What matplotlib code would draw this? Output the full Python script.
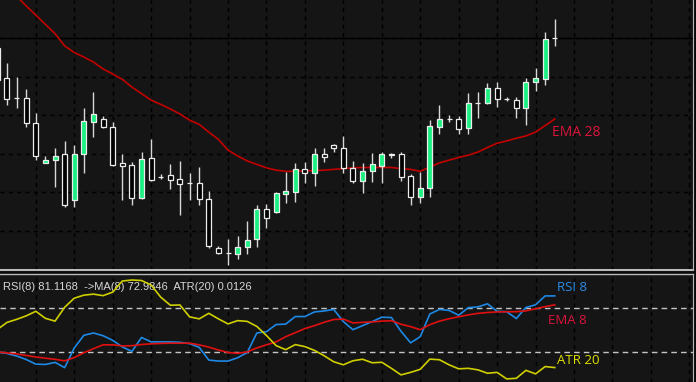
import numpy as np
import matplotlib.pyplot as plt
from matplotlib.patches import Rectangle

# 日线K线数据 (开 高 低 收)
opens = [1.2975, 1.2897, 1.2844, 1.2845, 1.2780, 1.2676, 1.2683, 1.2699, 1.2579, 1.2699,
         1.2782, 1.2790, 1.2769, 1.2676, 1.2670, 1.2585, 1.2689, 1.2639, 1.2644, 1.2634,
         1.2624, 1.2624, 1.2582, 1.2455, 1.2442, 1.2439, 1.2457, 1.2478, 1.2556, 1.2548,
         1.2595, 1.2600, 1.2660, 1.2650, 1.2699, 1.2722, 1.2715, 1.2663, 1.2629, 1.2655,
         1.2668, 1.2699, 1.2699, 1.2642, 1.2587, 1.2611, 1.2769, 1.2790, 1.2790, 1.2767,
         1.2832, 1.2832, 1.2871, 1.2842, 1.2839, 1.2819, 1.2886, 1.2894, 1.3001]
highs = [1.2982, 1.2936, 1.2899, 1.2868, 1.2806, 1.2694, 1.2715, 1.2733, 1.2722, 1.2819,
         1.2860, 1.2798, 1.2782, 1.2699, 1.2678, 1.2704, 1.2738, 1.2647, 1.2673, 1.2681,
         1.2650, 1.2665, 1.2603, 1.2460, 1.2478, 1.2486, 1.2525, 1.2566, 1.2569, 1.2600,
         1.2652, 1.2676, 1.2678, 1.2715, 1.2715, 1.2725, 1.2746, 1.2681, 1.2676, 1.2702,
         1.2704, 1.2702, 1.2704, 1.2647, 1.2652, 1.2787, 1.2826, 1.2800, 1.2798, 1.2858,
         1.2860, 1.2884, 1.2886, 1.2847, 1.2847, 1.2897, 1.2923, 1.3016, 1.3050]
lows = [1.2886, 1.2826, 1.2819, 1.2769, 1.2683, 1.2675, 1.2613, 1.2561, 1.2561, 1.2650,
        1.2743, 1.2767, 1.2668, 1.2579, 1.2566, 1.2582, 1.2629, 1.2634, 1.2608, 1.2540,
        1.2579, 1.2566, 1.2455, 1.2439, 1.2410, 1.2426, 1.2439, 1.2457, 1.2507, 1.2546,
        1.2572, 1.2574, 1.2624, 1.2616, 1.2678, 1.2704, 1.2650, 1.2624, 1.2598, 1.2626,
        1.2624, 1.2689, 1.2629, 1.2566, 1.2572, 1.2587, 1.2751, 1.2782, 1.2751, 1.2751,
        1.2793, 1.2829, 1.2821, 1.2837, 1.2793, 1.2774, 1.2863, 1.2878, 1.2980]
closes = [1.2891, 1.2842, 1.2845, 1.2780, 1.2694, 1.2683, 1.2694, 1.2566, 1.2699, 1.2785,
          1.2803, 1.2769, 1.2670, 1.2668, 1.2585, 1.2686, 1.2631, 1.2640, 1.2631, 1.2621,
          1.2623, 1.2582, 1.2460, 1.2442, 1.2441, 1.2457, 1.2475, 1.2556, 1.2533, 1.2598,
          1.2603, 1.2660, 1.2650, 1.2699, 1.2691, 1.2715, 1.2663, 1.2629, 1.2655, 1.2673,
          1.2699, 1.2696, 1.2639, 1.2587, 1.2611, 1.2772, 1.2790, 1.2789, 1.2764, 1.2832,
          1.2831, 1.2871, 1.2842, 1.2841, 1.2819, 1.2886, 1.2897, 1.2998, 1.3000]

ema28 = [1.3156, 1.3133, 1.3109, 1.3084, 1.3060, 1.3036, 1.3012, 1.2980, 1.2963, 1.2951,
         1.2938, 1.2920, 1.2907, 1.2893, 1.2873, 1.2856, 1.2839, 1.2828, 1.2816, 1.2803,
         1.2787, 1.2776, 1.2756, 1.2737, 1.2709, 1.2694, 1.2681, 1.2672, 1.2663, 1.2657,
         1.2654, 1.2654, 1.2655, 1.2656, 1.2657, 1.2659, 1.2661, 1.2663, 1.2664, 1.2664,
         1.2664, 1.2664, 1.2661, 1.2659, 1.2654, 1.2665, 1.2676, 1.2683, 1.2690, 1.2696,
         1.2704, 1.2716, 1.2727, 1.2733, 1.2740, 1.2746, 1.2756, 1.2773, 1.2790]

# 副图指标
rsi8 = [30.0, 28.6, 26.3, 23.1, 18.9, 18.6, 20.5, 15.7, 33.7, 45.2,
        47.3, 44.8, 40.6, 34.6, 30.5, 43.2, 39.2, 39.2, 39.2, 38.8,
        37.6, 34.2, 22.6, 21.7, 21.7, 24.7, 29.5, 47.3, 48.5, 55.0,
        55.4, 62.3, 62.3, 66.5, 67.4, 68.8, 57.7, 50.3, 54.0, 57.7,
        61.7, 61.4, 48.9, 38.3, 43.9, 64.6, 68.8, 67.9, 63.5, 70.4,
        71.1, 73.9, 67.1, 66.7, 60.5, 70.6, 73.0, 81.1, 81.1168]
ema8 = [30.0, 29.1, 28.2, 26.8, 25.4, 24.3, 23.3, 21.9, 24.9, 29.3,
        33.0, 36.5, 36.5, 35.5, 35.7, 36.8, 37.4, 37.8, 38.0, 38.0,
        38.0, 36.5, 34.4, 31.8, 29.5, 28.8, 30.0, 33.7, 36.5, 39.2,
        43.9, 47.6, 51.3, 54.0, 57.1, 59.6, 60.0, 56.5, 57.0, 57.4,
        58.1, 58.5, 55.3, 53.1, 50.3, 54.9, 58.1, 60.3, 62.1, 63.8,
        65.2, 66.0, 66.5, 66.7, 66.7, 67.5, 69.4, 71.3, 72.9846]
atr20 = [0.01562, 0.01618, 0.01642, 0.01670, 0.01706, 0.01650, 0.01628, 0.01738, 0.01810, 0.01834,
         0.01842, 0.01830, 0.01858, 0.01946, 0.01954, 0.01950, 0.01914, 0.01818, 0.01754, 0.01756,
         0.01662, 0.01646, 0.01690, 0.01646, 0.01606, 0.01632, 0.01626, 0.01586, 0.01514, 0.01434,
         0.01402, 0.01442, 0.01426, 0.01396, 0.01354, 0.01306, 0.01282, 0.01314, 0.01326, 0.01298,
         0.01302, 0.01254, 0.01202, 0.01222, 0.01246, 0.01327, 0.01322, 0.01282, 0.01250, 0.01254,
         0.01242, 0.01215, 0.01222, 0.01170, 0.01175, 0.01238, 0.01210, 0.01268, 0.01260]

bg = "#151515"
edge = "#b9b9b9"
bull = "#1cf082"
xs = np.arange(len(opens))

fig = plt.figure(figsize=(6.96, 3.82), dpi=100, facecolor="#0a0a0a")
W, H = 696.0, 382.0
ax = fig.add_axes([0, 112 / H, 693 / W, 270 / H], facecolor=bg)
ax2 = fig.add_axes([0, 0, 693 / W, 108 / H], facecolor=bg)

for a in (ax, ax2):
    a.set_xlim(0.272, 72.385)
    a.set_xticks(np.arange(4, 73, 4))
    a.tick_params(length=0, labelbottom=False, labelleft=False)
    a.grid(axis="x", color="black", linestyle=(0, (3, 3)), linewidth=1)
    a.set_axisbelow(True)
    for s in a.spines.values():
        s.set_visible(False)
    a.spines["right"].set_visible(True)
    a.spines["right"].set_color(edge)

# 主图
ax.set_ylim(1.23974, 1.30994)
ax.set_yticks(np.arange(1.24, 1.305, 0.01))
ax.grid(axis="y", color="black", linestyle=(0, (3, 3)), linewidth=1)
ax.spines["bottom"].set_visible(True)
ax.spines["bottom"].set_color(edge)
ax.spines["bottom"].set_linewidth(1.5)
ax.axhline(closes[-1], color="black", linewidth=1, zorder=1)

ax.plot(xs, ema28, color="#c30000", linewidth=1.2, zorder=2)

for i in xs:
    o, h, l, c = opens[i], highs[i], lows[i], closes[i]
    ax.vlines(i, l, h, color="#d8d8d8", linewidth=1, zorder=3)
    face = bull if c > o else "black"
    ax.add_patch(Rectangle((i - 0.26, min(o, c)), 0.52, max(abs(c - o), 0.00004),
                           facecolor=face, edgecolor="#ececec", linewidth=0.9, zorder=4))

ax.text(57.68, 1.2756, "EMA 28", color="#dc143c", fontsize=10, family="Open Sans",
        ha="left", va="center")

# 副图
ax2.set_ylim(2.6, 101.1)
ax2.spines["top"].set_visible(True)
ax2.spines["top"].set_color(edge)
ax2.spines["top"].set_linewidth(1)
ax2.axhline(70, color="#c4c4c4", linestyle=(0, (4, 3)), linewidth=1, zorder=1)
ax2.axhline(30, color="#c4c4c4", linestyle=(0, (4, 3)), linewidth=1, zorder=1)

ax2.plot(xs, rsi8, color="#1e88e5", linewidth=1.2, zorder=3)
ax2.plot(xs, ema8, color="#e01010", linewidth=1.2, zorder=4)

ax3 = ax2.twinx()
ax3.set_ylim(0.011456, 0.020016)
ax3.axis("off")
ax3.plot(xs, atr20, color="#cfcf00", linewidth=1.2)

ax2.text(0.004, 0.88, "RSI(8) %.4f  ->MA(8) %.4f  ATR(20) %.4f" % (rsi8[-1], ema8[-1], atr20[-1]),
         transform=ax2.transAxes, color="#d6d6d6", fontsize=8, family="Liberation Sans",
         ha="left", va="center")
ax2.text(58.23, 89.1, "RSI 8", color="#2b8ce8", fontsize=9.5, family="Open Sans", ha="left", va="center")
ax2.text(57.3, 58.6, "EMA 8", color="#dc143c", fontsize=9.5, family="Open Sans", ha="left", va="center")
ax2.text(58.23, 22.6, "ATR 20", color="#e0e000", fontsize=9.5, family="Open Sans", ha="left", va="center")

fig.savefig("out.png", dpi=100, facecolor=fig.get_facecolor())
